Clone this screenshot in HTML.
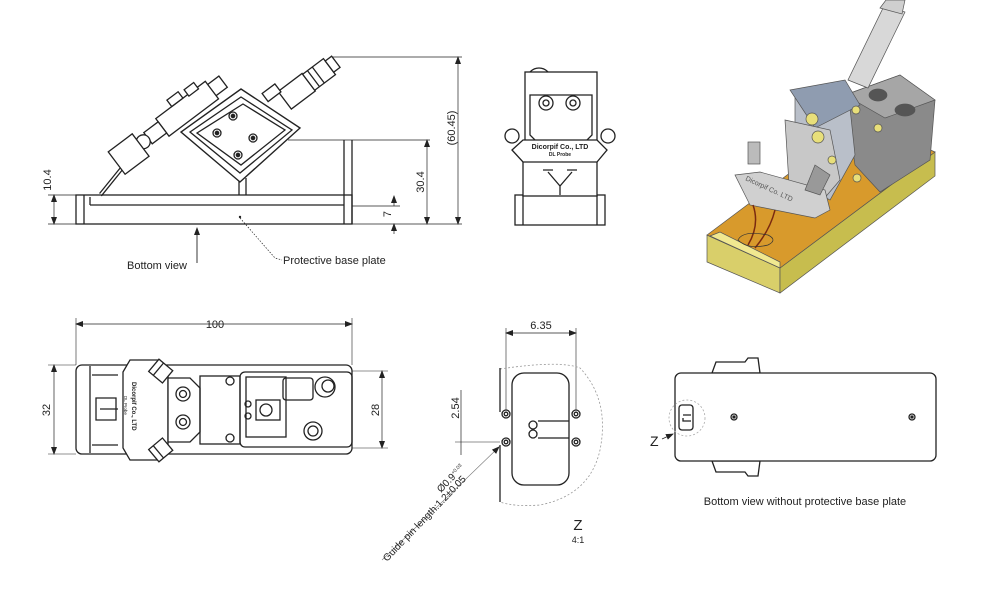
<!DOCTYPE html>
<html><head><meta charset="utf-8"><style>
html,body{margin:0;padding:0;background:#fff;}
svg{display:block;font-family:"Liberation Sans",Arial,sans-serif;}
</style></head><body>
<svg width="1000" height="603" viewBox="0 0 1000 603" xmlns="http://www.w3.org/2000/svg">
<defs>
<marker id="ar" markerWidth="8" markerHeight="6" refX="7" refY="3" orient="auto-start-reverse" markerUnits="userSpaceOnUse"><path d="M0,0 L8,3 L0,6 z" fill="#222"/></marker>
</defs>
<rect width="1000" height="603" fill="#fff"/>

<!-- ===== SIDE VIEW ===== -->
<g stroke="#222" fill="none" stroke-width="1.3">
  <line x1="48" y1="224" x2="462" y2="224" stroke-width="0.8"/>
  <rect x="76" y="195" width="276" height="29" fill="#fff"/>
  <line x1="84" y1="195" x2="84" y2="224"/>
  <line x1="90" y1="197" x2="90" y2="205"/>
  <line x1="90" y1="205" x2="344" y2="205"/>
  <line x1="344" y1="140" x2="344" y2="224"/>
  <line x1="352" y1="140" x2="352" y2="224"/>
  <line x1="288" y1="140" x2="430" y2="140" stroke-width="0.7"/>
  <line x1="352" y1="206" x2="400" y2="206" stroke-width="0.7"/>
  <line x1="330" y1="57" x2="462" y2="57" stroke-width="0.7"/>
  <line x1="239" y1="180" x2="239" y2="195"/><line x1="246" y1="178" x2="246" y2="195"/>
  <polygon points="241,89 300,128 240,182 181,132" fill="#fff" stroke-width="1.4"/>
  <polygon points="241,97 292,130 240,173 190,132"/>
  <polygon points="243,104 285,130 241,165 197,133"/>
  <circle cx="233" cy="116" r="4"/><circle cx="233" cy="116" r="1.7" fill="#222"/>
  <circle cx="217" cy="133" r="4"/><circle cx="217" cy="133" r="1.7" fill="#222"/>
  <circle cx="253" cy="138" r="4"/><circle cx="253" cy="138" r="1.7" fill="#222"/>
  <circle cx="238" cy="155" r="4"/><circle cx="238" cy="155" r="1.7" fill="#222"/>
  <g transform="translate(241,132) rotate(-37)">
    <rect x="54" y="-10" width="30" height="22" fill="#fff"/>
    <rect x="84" y="-9" width="26" height="20" fill="#fff"/>
    <line x1="90" y1="-9" x2="90" y2="11"/><line x1="96" y1="-9" x2="96" y2="11"/>
    <rect x="110" y="-6" width="8" height="14" fill="#fff"/>
    <rect x="40" y="-18" width="16" height="10" fill="#fff"/>
    <rect x="-2" y="-58" width="18" height="14" fill="#fff"/>
    <rect x="-60" y="-62" width="62" height="22" fill="#fff"/>
    <rect x="-40" y="-70" width="14" height="8" fill="#fff"/>
    <rect x="-20" y="-68" width="12" height="8" fill="#fff"/>
    <rect x="-78" y="-58" width="18" height="14" fill="#fff"/>
    <circle cx="-84" cy="-51" r="7" fill="#fff"/>
    <rect x="-118" y="-64" width="30" height="28" fill="#fff"/>
    <line x1="-118" y1="-44" x2="-150" y2="-36"/>
    <line x1="-118" y1="-41" x2="-150" y2="-33"/>
  </g>
  <line x1="54" y1="195" x2="54" y2="224" marker-start="url(#ar)" marker-end="url(#ar)" stroke-width="0.7"/>
  <line x1="48" y1="195" x2="76" y2="195" stroke-width="0.7"/>
  <line x1="394" y1="196" x2="394" y2="206" marker-start="url(#ar)" stroke-width="0.7"/>
  <line x1="394" y1="224" x2="394" y2="234" marker-start="url(#ar)" stroke-width="0.7"/>
  <line x1="427" y1="140" x2="427" y2="224" marker-start="url(#ar)" marker-end="url(#ar)" stroke-width="0.7"/>
  <line x1="458" y1="57" x2="458" y2="224" marker-start="url(#ar)" marker-end="url(#ar)" stroke-width="0.7"/>
  <line x1="197" y1="228" x2="197" y2="263" marker-start="url(#ar)" stroke-width="0.9"/>
  <polyline points="240,218 275,258 282,260" stroke-dasharray="1.5,1.5" stroke-width="0.7"/>
</g>
<circle cx="240" cy="217" r="1.2" fill="#222"/>
<g font-size="11" fill="#222">
  <text transform="translate(51,180) rotate(-90)" text-anchor="middle">10.4</text>
  <text transform="translate(391,214) rotate(-90)" text-anchor="middle">7</text>
  <text transform="translate(424,182) rotate(-90)" text-anchor="middle">30.4</text>
  <text transform="translate(455,128) rotate(-90)" text-anchor="middle">(60.45)</text>
  <text x="127" y="269">Bottom view</text>
  <text x="283" y="264">Protective base plate</text>
</g>

<!-- ===== FRONT VIEW ===== -->
<g stroke="#222" fill="#fff" stroke-width="1.3">
  <rect x="515" y="195" width="90" height="30"/>
  <line x1="523" y1="195" x2="523" y2="225"/><line x1="597" y1="195" x2="597" y2="225"/>
  <rect x="523" y="160" width="74" height="36"/>
  <path d="M527,80 a12,12 0 0 1 24,0 z"/>
  <rect x="525" y="72" width="72" height="70"/>
  <path d="M530,95 H592 V135 L585,142 H537 L530,135 z"/>
  <circle cx="546" cy="103" r="7"/><circle cx="546" cy="103" r="3"/>
  <circle cx="573" cy="103" r="7"/><circle cx="573" cy="103" r="3"/>
  <circle cx="512" cy="136" r="7"/><circle cx="608" cy="136" r="7"/>
  <polygon points="512,150 523,140 597,140 607,150 597,162 523,162"/>
  <path d="M543,170 h10 M567,170 h10 M548,172 L560,186 L572,172 M560,186 V195" fill="none"/>
</g>
<text x="560" y="149" font-size="7" text-anchor="middle" fill="#222" font-weight="bold">Dicorpif Co., LTD</text>
<text x="560" y="156" font-size="5" text-anchor="middle" fill="#222" font-weight="bold">DL Probe</text>

<!-- ===== 3D RENDER ===== -->
<g stroke="#555" stroke-width="0.7">
  <polygon points="707,235 780,268 780,293 707,262" fill="#d9cf6a"/>
  <polygon points="780,268 935,152 935,176 780,293" fill="#c7bd4e"/>
  <polygon points="707,235 780,268 935,152 862,119" fill="#d89a2c"/>
  <polygon points="710,236 720,232 780,262 780,268" fill="#f0e890"/>
  <polygon points="845,95 900,75 935,100 930,160 880,192 855,165" fill="#8a8a8a"/>
  <polygon points="845,95 900,75 935,100 885,118" fill="#a6a6a6"/>
  <ellipse cx="878" cy="95" rx="9" ry="6" fill="#555"/>
  <ellipse cx="905" cy="110" rx="10" ry="6" fill="#555"/>
  <polygon points="848,80 868,88 905,12 885,4" fill="#d8d8d8"/>
  <polygon points="880,8 886,0 905,0 902,14" fill="#cfcfcf"/>
  <polygon points="795,92 850,108 855,155 830,200 795,180" fill="#b9bfc9"/>
  <polygon points="790,90 845,80 860,105 815,128" fill="#8f9cb0"/>
  <polygon points="785,120 830,130 840,180 810,215 790,200" fill="#c8c8c8"/>
  <polygon points="735,175 760,172 825,190 830,210 815,218 750,205" fill="#d0d0d0"/>
  <polygon points="815,165 830,175 820,195 805,190" fill="#999"/>
  <rect x="748" y="142" width="12" height="22" fill="#bbb"/>
  <path d="M753,205 Q760,225 748,245 M775,210 Q770,230 755,248" fill="none" stroke="#7a2a10" stroke-width="1.5"/>
  <path d="M738,240 q5,-10 30,-5 q10,5 0,10 q-20,5 -30,-5z" fill="none" stroke="#333"/>
  <circle cx="812" cy="119" r="6" fill="#e8df7a"/><circle cx="818" cy="137" r="6" fill="#e8df7a"/>
  <circle cx="856" cy="110" r="4" fill="#e8df7a"/><circle cx="878" cy="128" r="4" fill="#e8df7a"/>
  <circle cx="832" cy="160" r="4" fill="#e8df7a"/><circle cx="857" cy="178" r="4" fill="#e8df7a"/>
</g>
<text transform="translate(745,180) rotate(25)" font-size="7" fill="#555">Dicorpif Co. LTD</text>

<!-- ===== TOP VIEW ===== -->
<g stroke="#222" fill="none" stroke-width="1.3">
  <line x1="76" y1="324" x2="352" y2="324" marker-start="url(#ar)" marker-end="url(#ar)" stroke-width="0.7"/>
  <line x1="76" y1="318" x2="76" y2="365" stroke-width="0.6"/><line x1="352" y1="318" x2="352" y2="365" stroke-width="0.6"/>
  <line x1="54" y1="365" x2="54" y2="454" marker-start="url(#ar)" marker-end="url(#ar)" stroke-width="0.7"/>
  <line x1="48" y1="365" x2="76" y2="365" stroke-width="0.6"/><line x1="48" y1="454" x2="76" y2="454" stroke-width="0.6"/>
  <line x1="382" y1="371" x2="382" y2="448" marker-start="url(#ar)" marker-end="url(#ar)" stroke-width="0.7"/>
  <line x1="352" y1="371" x2="388" y2="371" stroke-width="0.6"/><line x1="352" y1="448" x2="388" y2="448" stroke-width="0.6"/>
  <rect x="76" y="365" width="276" height="89" rx="6" fill="#fff"/>
  <line x1="90" y1="366" x2="90" y2="453"/>
  <path d="M92,375 H118 M92,445 H118 M96,398 h20 v22 h-20 z M100,409 h18"/>
  <polygon points="123,372 130,360 160,360 168,372 168,448 160,460 130,460 123,448" fill="#fff"/>
  <polygon points="168,378 190,378 200,388 200,432 190,442 168,442" fill="#fff"/>
  <circle cx="183" cy="394" r="7"/><circle cx="183" cy="394" r="3.5"/>
  <circle cx="183" cy="422" r="7"/><circle cx="183" cy="422" r="3.5"/>
  <rect x="200" y="376" width="40" height="68"/>
  <circle cx="230" cy="381" r="4"/><circle cx="230" cy="438" r="4"/>
  <rect x="240" y="372" width="112" height="75" rx="5"/>
  <rect x="246" y="377" width="40" height="60"/>
  <rect x="256" y="400" width="24" height="20"/>
  <circle cx="266" cy="410" r="6"/>
  <circle cx="248" cy="404" r="3"/><circle cx="248" cy="416" r="3"/>
  <rect x="283" y="378" width="30" height="22" rx="3"/>
  <circle cx="325" cy="387" r="10"/><circle cx="328" cy="386" r="6"/>
  <circle cx="313" cy="431" r="9"/><circle cx="313" cy="431" r="5"/>
  <g transform="translate(163,373) rotate(-50)"><rect x="-8" y="-12" width="16" height="18" fill="#fff"/><line x1="-8" y1="-6" x2="8" y2="-6"/></g>
  <g transform="translate(163,448) rotate(50)"><rect x="-8" y="-6" width="16" height="18" fill="#fff"/><line x1="-8" y1="6" x2="8" y2="6"/></g>
</g>
<g font-size="11" fill="#222">
  <text x="215" y="328" text-anchor="middle">100</text>
  <text transform="translate(50,410) rotate(-90)" text-anchor="middle">32</text>
  <text transform="translate(379,410) rotate(-90)" text-anchor="middle">28</text>
</g>
<text transform="translate(132,382) rotate(90)" font-size="6" fill="#222" font-weight="bold">Dicorpif  Co.,  LTD</text>
<text transform="translate(124,396) rotate(90)" font-size="4.5" fill="#222">DL Probe</text>

<!-- ===== DETAIL Z ===== -->
<g stroke="#222" fill="none" stroke-width="1.3">
  <line x1="506" y1="333" x2="576" y2="333" marker-start="url(#ar)" marker-end="url(#ar)" stroke-width="0.7"/>
  <line x1="506" y1="328" x2="506" y2="410" stroke-width="0.6"/><line x1="576" y1="328" x2="576" y2="410" stroke-width="0.6"/>
  <path d="M500,369 Q560,360 580,368 Q610,400 600,450 Q590,495 540,505 Q515,507 500,502" stroke="#999" stroke-dasharray="2,2" stroke-width="0.8"/>
  <line x1="500" y1="368" x2="500" y2="412"/>
  <line x1="500" y1="445" x2="500" y2="502"/>
  <rect x="512" y="373" width="57" height="112" rx="12"/>
  <path d="M538,421 H569 M538,438 H569"/>
  <circle cx="533" cy="425" r="4"/><circle cx="533" cy="434" r="4"/>
  <circle cx="506" cy="414" r="4"/><circle cx="506" cy="414" r="1.8"/>
  <circle cx="576" cy="414" r="4"/><circle cx="576" cy="414" r="1.8"/>
  <circle cx="506" cy="442" r="4"/><circle cx="506" cy="442" r="1.8"/>
  <circle cx="576" cy="442" r="4"/><circle cx="576" cy="442" r="1.8"/>
  <line x1="461" y1="390" x2="461" y2="455" stroke-width="0.7"/>
  <line x1="455" y1="442" x2="500" y2="442" stroke-width="0.6"/>
  <line x1="382" y1="560" x2="499" y2="447" marker-end="url(#ar)" stroke-width="0.6" stroke="#777"/>
</g>
<g font-size="11" fill="#222">
  <text x="541" y="329" text-anchor="middle">6.35</text>
  <text transform="translate(459,408) rotate(-90)" text-anchor="middle">2.54</text>
  <text transform="translate(441,493) rotate(-46)" font-size="10">Ø0.9<tspan font-size="5" dy="-4">+0.03</tspan></text>
  <text transform="translate(387,562) rotate(-46)" font-size="10">Guide pin length:1.2±0.05</text>
  <text x="578" y="530" font-size="15" text-anchor="middle">Z</text>
  <text x="578" y="543" font-size="9" text-anchor="middle">4:1</text>
</g>

<!-- ===== BOTTOM VIEW ===== -->
<g stroke="#222" fill="#fff" stroke-width="1.3">
  <path d="M712,373 L716,362 H745 L748,358 H758 L760,373 z"/>
  <path d="M712,461 L716,472 H745 L748,476 H758 L760,461 z"/>
  <rect x="675" y="373" width="261" height="88" rx="6"/>
  <circle cx="687" cy="418" r="18" fill="none" stroke="#aaa" stroke-dasharray="2,2" stroke-width="0.8"/>
  <rect x="679" y="405" width="14" height="25" rx="3" fill="none"/>
  <path d="M683,415 h8 M683,418 v3 h8" fill="none"/>
  <circle cx="734" cy="417" r="3" fill="none"/><circle cx="734" cy="417" r="1" fill="#222"/>
  <circle cx="912" cy="417" r="3" fill="none"/><circle cx="912" cy="417" r="1" fill="#222"/>
  <line x1="662" y1="439" x2="673" y2="434" stroke-width="0.7" marker-end="url(#ar)"/>
</g>
<text x="650" y="446" font-size="14" fill="#222">Z</text>
<text x="805" y="505" font-size="11" fill="#222" text-anchor="middle">Bottom view without protective base plate</text>
</svg>
</body></html>
